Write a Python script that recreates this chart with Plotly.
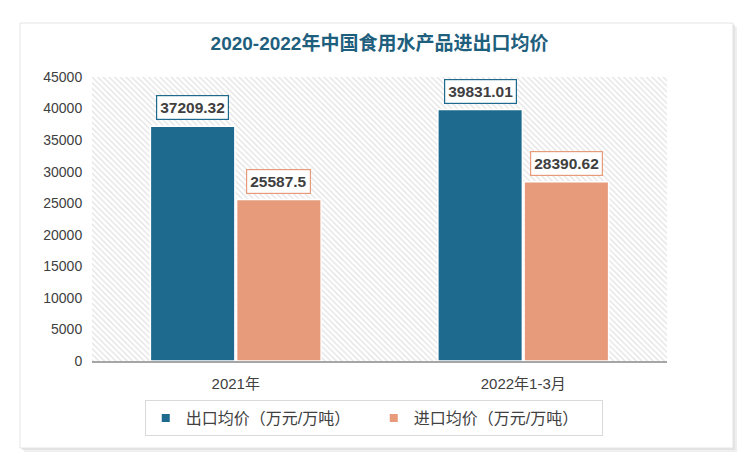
import plotly.graph_objects as go

categories = ["2021年", "2022年1-3月"]
export_price = [37209.32, 39831.01]
import_price = [25587.5, 28390.62]
series_names = ["出口均价（万元/万吨）", "进口均价（万元/万吨）"]
y_ticks = [0, 5000, 10000, 15000, 20000, 25000, 30000, 35000, 40000, 45000]
title_text = "2020-2022年中国食用水产品进出口均价"

BLUE = "#1D6A8E"
ORANGE = "#E79B7B"
TXT = "#404040"
FONT = "Liberation Sans, Noto Sans CJK SC, sans-serif"

W, H = 750, 461
L, R, T, B = 92, 83, 77, 100
PW, PH = W - L - R, H - T - B


def px_x(p):
    return (p - L) / PW


def px_y(p):
    return (H - B - p) / PH


fig = go.Figure()

# hatched plot background (on base axis, underneath the bars)
fig.add_trace(go.Scatter(
    x=[0, 1, 1, 0, 0], y=[0, 0, max(y_ticks), max(y_ticks), 0],
    xaxis="x", yaxis="y", mode="lines", line=dict(width=0),
    fill="toself", fillcolor="white",
    fillpattern=dict(shape="\\", fgcolor="#C4C4C4", bgcolor="white", size=4, solidity=0.3),
    hoverinfo="skip", showlegend=False,
))

bargap = 0.4
for vals, col, name in [(export_price, BLUE, series_names[0]), (import_price, ORANGE, series_names[1])]:
    fig.add_trace(go.Bar(
        x=categories, y=vals, name=name, xaxis="x2", yaxis="y", showlegend=False,
        marker=dict(color=col, line=dict(color="white", width=1.5)),
    ))
# legend entries with small square symbols
for col, name in [(BLUE, series_names[0]), (ORANGE, series_names[1])]:
    fig.add_trace(go.Scatter(
        x=[None], y=[None], name=name, xaxis="x2", yaxis="y", mode="markers",
        marker=dict(symbol="square", size=8, color=col),
    ))

# value labels with boxed borders
bar_w = PW / len(categories) * (1 - bargap) / 2
for vals, col, sgn in [(export_price, BLUE, -1), (import_price, ORANGE, 1)]:
    for c, v in zip(categories, vals):
        fig.add_annotation(
            x=c, y=v, xref="x2", yref="y", text=str(v),
            showarrow=False, xshift=sgn * bar_w / 2, yshift=6, yanchor="bottom",
            font=dict(family=FONT, size=15.5, color=TXT, weight="bold"),
            bgcolor="white", bordercolor=col, borderwidth=1.2, borderpad=3,
        )

# card with soft shadow
for off, colr in [(4, "#EFEFEF"), (2, "#E3E3E3")]:
    fig.add_shape(type="rect", xref="paper", yref="paper", layer="below",
                  x0=px_x(20 + off), x1=px_x(733 + off), y0=px_y(448 + off), y1=px_y(23 + off),
                  line=dict(width=0), fillcolor=colr)
fig.add_shape(type="rect", xref="paper", yref="paper", layer="below",
              x0=px_x(20), x1=px_x(733), y0=px_y(448), y1=px_y(23),
              line=dict(color="#E4E4E4", width=1), fillcolor="white")

fig.update_layout(
    width=W, height=H,
    margin=dict(l=L, r=R, t=T, b=B),
    paper_bgcolor="white", plot_bgcolor="rgba(0,0,0,0)",
    barmode="group", bargap=bargap, bargroupgap=0.02,
    title=dict(text=title_text, x=0.5, xref="paper", y=1 - 43 / H, yanchor="middle",
               font=dict(family=FONT, size=19, color="#1F5F7E", weight="bold")),
    font=dict(family=FONT, color=TXT),
    xaxis=dict(range=[0, 1], visible=False, fixedrange=True),
    xaxis2=dict(overlaying="x", side="bottom", showgrid=False, showline=True,
                linecolor="#A6A6A6", linewidth=2, ticks="outside", ticklen=8,
                tickcolor="rgba(0,0,0,0)", tickfont=dict(size=15, color=TXT)),
    yaxis=dict(range=[0, max(y_ticks)], tickvals=y_ticks, tickformat="d", showgrid=False,
               zeroline=False, showline=False, ticks="outside", ticklen=6,
               tickcolor="rgba(0,0,0,0)", tickfont=dict(size=14, color=TXT)),
    legend=dict(orientation="h", x=0.49, xanchor="center", y=px_y(418), yanchor="middle",
                bordercolor="#D9D9D9", borderwidth=1, bgcolor="white",
                font=dict(size=16, color=TXT), itemwidth=30, entrywidth=183,
                tracegroupgap=0),
    showlegend=True,
)

fig.write_html("out.html", config={"displayModeBar": False},
               post_script="document.body.style.margin='0';")
